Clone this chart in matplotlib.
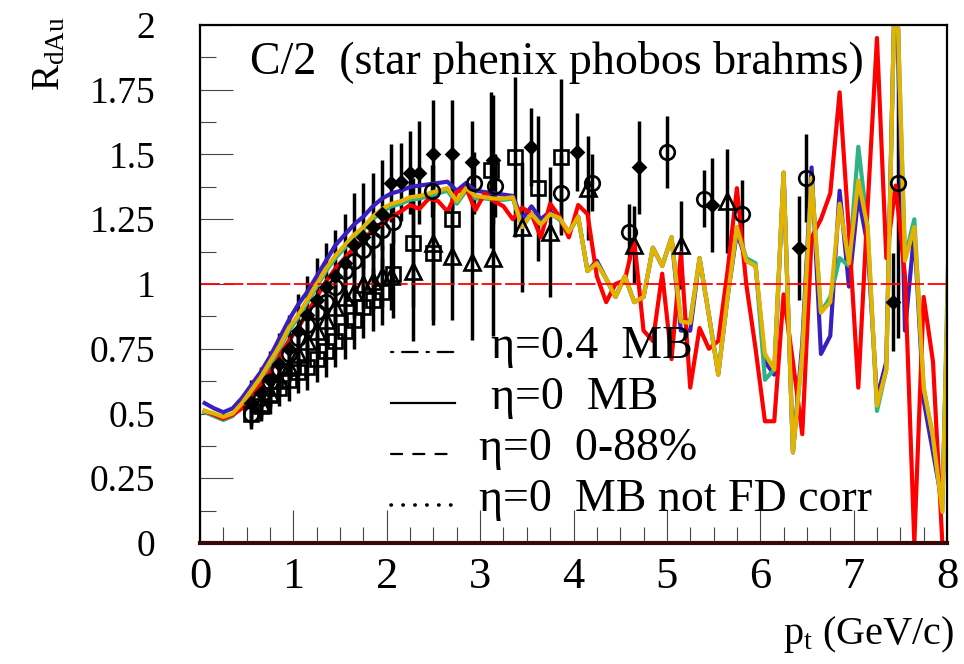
import numpy as np
import matplotlib
matplotlib.use("Agg")
import matplotlib.pyplot as plt
from matplotlib.ticker import MultipleLocator, FuncFormatter

plt.rcParams['font.family'] = ['Liberation Serif', 'DejaVu Serif']
plt.rcParams['mathtext.fontset'] = 'custom'
plt.rcParams['mathtext.rm'] = 'Liberation Serif'
plt.rcParams['mathtext.it'] = 'Liberation Serif:italic'

# model curves, one value per 0.1 GeV bin (centres 0.05 ... 8.05)
pt_bins = [round(0.05 + 0.1 * k, 2) for k in range(81)]

curve_blue = [0.54, 0.52, 0.505, 0.52, 0.56, 0.61, 0.66, 0.72, 0.79, 0.86,
              0.92, 0.97, 1.03, 1.09, 1.15, 1.19, 1.23, 1.26, 1.30, 1.33,
              1.35, 1.36, 1.375, 1.38, 1.385, 1.39, 1.395, 1.36, 1.39, 1.36,
              1.355, 1.35, 1.345, 1.34, 1.25, 1.30, 1.25, 1.28, 1.25, 1.20,
              1.26, 1.05, 1.09, 1.02, 0.95, 1.03, 0.93, 0.95, 1.14, 1.07,
              1.18, 0.82, 0.82, 1.10, 0.88, 0.65, 0.95, 1.20, 1.09, 1.07,
              0.70, 0.65, 1.43, 0.35, 0.77, 1.45, 0.73, 0.80, 1.36, 0.99,
              1.34, 1.15, 0.56, 0.70, 2.30, 0.82, 1.20, 0.55, 0.35, 0.15,
              1.50]

curve_teal = [0.505, 0.49, 0.475, 0.49, 0.53, 0.58, 0.63, 0.69, 0.75, 0.82,
              0.87, 0.93, 0.99, 1.05, 1.10, 1.14, 1.18, 1.21, 1.25, 1.28,
              1.30, 1.31, 1.325, 1.33, 1.34, 1.35, 1.36, 1.31, 1.36, 1.33,
              1.33, 1.325, 1.325, 1.33, 1.22, 1.27, 1.23, 1.27, 1.25, 1.20,
              1.26, 1.05, 1.08, 1.02, 0.95, 1.03, 0.93, 0.95, 1.14, 1.07,
              1.18, 0.86, 0.86, 1.10, 0.88, 0.66, 0.95, 1.22, 1.10, 1.08,
              0.63, 0.67, 1.43, 0.35, 0.73, 1.41, 0.89, 0.95, 1.10, 1.07,
              1.53, 1.22, 0.51, 0.67, 2.30, 1.10, 1.25, 0.60, 0.41, 0.12,
              1.70]

curve_yellow = [0.51, 0.50, 0.487, 0.50, 0.54, 0.59, 0.64, 0.70, 0.76, 0.83,
                0.88, 0.94, 1.00, 1.06, 1.11, 1.15, 1.19, 1.22, 1.26, 1.29,
                1.31, 1.32, 1.335, 1.34, 1.35, 1.36, 1.37, 1.32, 1.37, 1.34,
                1.335, 1.33, 1.33, 1.335, 1.22, 1.27, 1.23, 1.27, 1.255, 1.20,
                1.26, 1.05, 1.08, 1.02, 0.95, 1.03, 0.93, 0.95, 1.14, 1.07,
                1.18, 0.855, 0.85, 1.10, 0.88, 0.65, 0.95, 1.22, 1.09, 1.07,
                0.73, 0.67, 1.43, 0.35, 0.73, 1.41, 0.89, 0.93, 1.31, 1.08,
                1.40, 1.22, 0.53, 0.67, 2.30, 1.09, 1.22, 0.60, 0.41, 0.12,
                1.60]

curve_red = [0.51, 0.495, 0.48, 0.495, 0.52, 0.56, 0.61, 0.66, 0.72, 0.78,
             0.83, 0.89, 0.95, 1.01, 1.06, 1.10, 1.14, 1.17, 1.21, 1.235,
             1.26, 1.28, 1.305, 1.29, 1.33, 1.32, 1.28, 1.355, 1.37, 1.285,
             1.35, 1.32, 1.30, 1.25, 1.295, 1.27, 1.18, 1.31, 1.26, 1.18,
             1.305, 1.27, 1.03, 0.93, 1.00, 1.015, 1.17, 0.82, 0.78, 1.04,
             0.71, 1.12, 0.60, 0.83, 0.75, 0.78, 1.05, 1.37, 1.00, 0.75,
             0.47, 0.47, 0.96, 0.70, 0.42, 1.18, 1.25, 1.35, 1.74, 1.20,
             0.60, 1.30, 1.95, 1.10, 1.38, 1.03, 0.0, 0.95, 0.70, 0.0,
             0.0]

# data points (star phenix phobos brahms)
diamond_x = [0.55, 0.65, 0.75, 0.85, 0.95, 1.05, 1.15, 1.25, 1.35, 1.45, 1.55,
             1.65, 1.75, 1.85, 1.95, 2.05, 2.15, 2.25, 2.35, 2.50, 2.70, 2.91,
             3.14, 3.54, 4.04, 4.70, 5.48, 6.41, 7.42]
diamond_y = [0.54, 0.58, 0.63, 0.69, 0.75, 0.82, 0.88, 0.94, 0.99, 1.03, 1.08,
             1.15, 1.18, 1.22, 1.27, 1.39, 1.395, 1.43, 1.43, 1.50, 1.50, 1.47,
             1.48, 1.53, 1.51, 1.45, 1.305, 1.14, 0.93]
diamond_err = [0.09, 0.10, 0.11, 0.12, 0.13, 0.14, 0.15, 0.16, 0.17, 0.18, 0.19,
               0.20, 0.21, 0.21, 0.21, 0.15, 0.15, 0.16, 0.20, 0.21, 0.21, 0.16,
               0.25, 0.15, 0.15, 0.18, 0.18, 0.20, 0.19]

circle_x = [0.55, 0.65, 0.75, 0.85, 0.95, 1.05, 1.15, 1.25, 1.35, 1.45, 1.55,
            1.65, 1.75, 1.85, 1.95, 2.07, 2.48, 2.93, 3.16, 3.87, 4.20, 4.59,
            5.00, 5.40, 5.80, 6.49, 7.48]
circle_y = [0.50, 0.56, 0.62, 0.67, 0.73, 0.79, 0.84, 0.89, 0.93, 0.99, 1.05,
            1.09, 1.13, 1.17, 1.21, 1.24, 1.36, 1.39, 1.38, 1.35, 1.39, 1.20,
            1.51, 1.33, 1.27, 1.41, 1.39]
circle_err = [0.04, 0.04, 0.04, 0.05, 0.05, 0.05, 0.05, 0.06, 0.06, 0.06, 0.06,
              0.07, 0.07, 0.07, 0.08, 0.08, 0.10, 0.12, 0.12, 0.15, 0.11, 0.11,
              0.14, 0.11, 0.13, 0.17, 0.60]

square_x = [0.55, 0.65, 0.75, 0.85, 0.95, 1.05, 1.15, 1.25, 1.35, 1.45, 1.55,
            1.65, 1.75, 1.85, 1.95, 2.07, 2.28, 2.50, 2.70, 3.12, 3.37, 3.62,
            3.87]
square_y = [0.50, 0.53, 0.57, 0.60, 0.63, 0.66, 0.68, 0.71, 0.74, 0.78, 0.82,
            0.86, 0.91, 0.94, 0.97, 1.04, 1.16, 1.12, 1.25, 1.44, 1.49, 1.37,
            1.49]
square_err = [0.06, 0.06, 0.07, 0.07, 0.08, 0.08, 0.09, 0.09, 0.10, 0.10, 0.11,
              0.11, 0.12, 0.12, 0.13, 0.17, 0.25, 0.28, 0.25, 0.30, 0.31, 0.28,
              0.30]

triangle_x = [0.65, 0.75, 0.85, 0.95, 1.05, 1.15, 1.25, 1.35, 1.45, 1.55, 1.65,
              1.75, 1.85, 1.95, 2.05, 2.28, 2.50, 2.70, 2.91, 3.14, 3.45, 3.75,
              4.16, 4.65, 5.15, 5.64]
triangle_y = [0.54, 0.58, 0.63, 0.68, 0.73, 0.78, 0.82, 0.86, 0.91, 0.95, 0.97,
              1.00, 1.01, 1.03, 1.03, 1.05, 1.16, 1.11, 1.085, 1.10, 1.22, 1.20,
              1.37, 1.15, 1.15, 1.32]
triangle_err = [0.05, 0.05, 0.06, 0.06, 0.07, 0.07, 0.08, 0.08, 0.09, 0.09, 0.10,
                0.10, 0.11, 0.12, 0.13, 0.27, 0.30, 0.25, 0.30, 0.30, 0.25, 0.25,
                0.20, 0.15, 0.17, 0.20]

legend_styles = [(0, (1, 4, 7, 4)), '-', (0, (5, 5)), (0, (0.1, 3.2))]
legend_labels = ['\u03b7=0.4  MB', '\u03b7=0  MB', '\u03b7=0  0-88%', '\u03b7=0  MB not FD corr']

fig = plt.figure(figsize=(9.64, 6.64), dpi=100)
ax = fig.add_axes([200 / 964, 1 - 543 / 664, 747 / 964, 518 / 664])

# data first, curves on top
mkw = dict(linestyle='none', ecolor='k', elinewidth=2.5, capsize=0, mec='k', mew=1.9)
ax.errorbar(square_x, square_y, yerr=square_err, marker='s', ms=9.5, mfc='none', **mkw)
ax.errorbar(triangle_x, triangle_y, yerr=triangle_err, marker='^', ms=11, mfc='none', **mkw)
ax.errorbar(circle_x, circle_y, yerr=circle_err, marker='o', ms=10.5, mfc='none', **mkw)
ax.errorbar(diamond_x, diamond_y, yerr=diamond_err, marker='D', ms=6, mfc='k', **mkw)

ax.plot(pt_bins, curve_blue, color='#3a1fbf', lw=3)
ax.plot(pt_bins, curve_teal, color='#2fb287', lw=3)
ax.plot(pt_bins, curve_red, color='#ff0000', lw=3)
ax.plot(pt_bins, curve_yellow, color='#e2b300', lw=3)

ax.axhline(1.0, color='red', lw=1.3, dashes=(11, 2))

ax.set_xlim(0, 8)
ax.set_ylim(0, 2)
ax.xaxis.set_major_locator(MultipleLocator(1))
ax.xaxis.set_minor_locator(MultipleLocator(0.25))
ax.yaxis.set_major_locator(MultipleLocator(0.25))
ax.yaxis.set_minor_locator(MultipleLocator(0.125))
ax.yaxis.set_major_formatter(FuncFormatter(lambda v, p: f"{v:g}"))
ax.tick_params(which='both', direction='in', top=False, right=False, width=0.8, color='#444')
ax.tick_params(which='major', length=23.5)
ax.tick_params(which='minor', length=11.5)
ax.tick_params(axis='x', which='major', labelsize=32, pad=10)
ax.tick_params(axis='y', which='major', labelsize=27, pad=32)
for s in ax.spines.values():
    s.set_linewidth(1.6)
ax.spines['bottom'].set_color('#3a0808')
ax.spines['bottom'].set_linewidth(3)

ax.text(0.067, 0.905, 'C/2  (star phenix phobos brahms)', transform=ax.transAxes,
        fontsize=33, va='baseline', ha='left')

# legend drawn by hand
for i, (ls, lab) in enumerate(zip(legend_styles, legend_labels)):
    yb = 0.358 - i * 0.0985
    lw = 2.6 if i == 3 else 1.6
    ax.plot([0.256, 0.342], [yb + 0.01, yb + 0.01], transform=ax.transAxes,
            color='k', lw=lw, linestyle=ls, dash_capstyle='round', clip_on=False)
    xt = 0.389 if i < 2 else 0.373
    ax.text(xt, yb, lab, transform=ax.transAxes, fontsize=33, va='baseline', ha='left')

fig.text(0.052, 0.975, r'R$_{\mathrm{dAu}}$', rotation=90, fontsize=28, ha='center', va='top')
fig.text(0.99, 0.03, r'p$_{\mathrm{t}}$ (GeV/c)', fontsize=29, ha='right', va='baseline')

fig.savefig('out.png', dpi=100)
